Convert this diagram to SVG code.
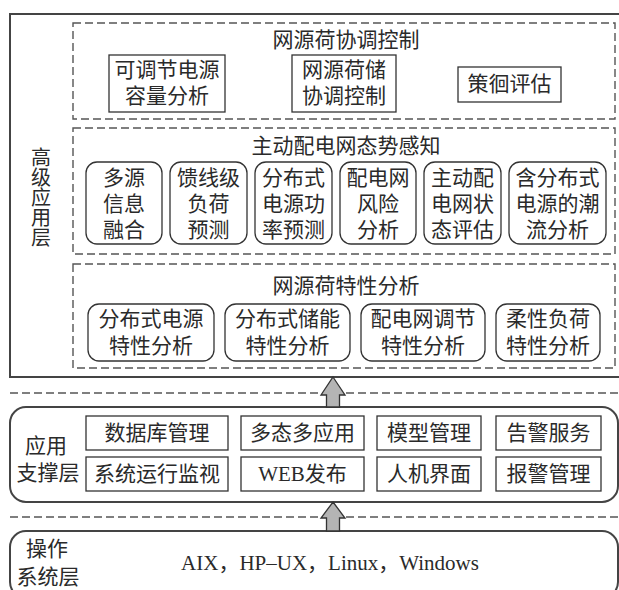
<svg xmlns="http://www.w3.org/2000/svg" width="619" height="590" viewBox="0 0 619 590">
<defs>
<style>
.t{font-family:"Liberation Serif","Noto Sans CJK SC",serif;font-size:21px;fill:#2a2a2a;text-anchor:middle;dominant-baseline:central}
.tt{font-family:"Liberation Serif","Noto Sans CJK SC",serif;font-size:20px;fill:#2a2a2a;text-anchor:middle;dominant-baseline:central}
.outer{fill:none;stroke:#444;stroke-width:2}
.dash{fill:none;stroke:#555;stroke-width:1.4;stroke-dasharray:8 4}
.box{fill:#fff;stroke:#333;stroke-width:1.3}
.arrow{fill:#b4b4b4;stroke:#333;stroke-width:1.3;stroke-linejoin:miter}
</style>
</defs>
<rect width="619" height="590" fill="#fff"/>

<g id="layer-app">
<rect class="outer" x="10" y="14" width="630" height="363"/>
<text class="tt" x="41" y="158">高</text>
<text class="tt" x="41" y="178">级</text>
<text class="tt" x="41" y="198">应</text>
<text class="tt" x="41" y="218">用</text>
<text class="tt" x="41" y="238">层</text>
</g>

<g id="group-coord">
<rect class="dash" x="73" y="23" width="542" height="96"/>
<text class="t" x="346" y="40">网源荷协调控制</text>
</g>
<g id="n-kedj"><rect class="box" x="109" y="55" width="116" height="57"/><text class="t" x="167" y="70">可调节电源</text><text class="t" x="167" y="96">容量分析</text></g>
<g id="n-wyhc"><rect class="box" x="292" y="55" width="104" height="57"/><text class="t" x="344" y="70">网源荷储</text><text class="t" x="344" y="96">协调控制</text></g>
<g id="n-clpg"><rect class="box" x="458" y="67" width="103" height="35"/><text class="t" x="509.5" y="84">策徊评估</text></g>

<g id="group-sense">
<rect class="dash" x="73" y="128" width="542" height="126"/>
<text class="t" x="346" y="146">主动配电网态势感知</text>
</g>
<g id="n-dyxx"><rect class="box" x="86" y="162" width="76" height="82" rx="11"/><text class="t" x="124" y="178">多源</text><text class="t" x="124" y="204">信息</text><text class="t" x="124" y="230">融合</text></g>
<g id="n-kxj"><rect class="box" x="170" y="162" width="77" height="82" rx="11"/><text class="t" x="208.5" y="178">馈线级</text><text class="t" x="208.5" y="204">负荷</text><text class="t" x="208.5" y="230">预测</text></g>
<g id="n-fbsgl"><rect class="box" x="255" y="162" width="77" height="82" rx="11"/><text class="t" x="293.5" y="178">分布式</text><text class="t" x="293.5" y="204">电源功</text><text class="t" x="293.5" y="230">率预测</text></g>
<g id="n-fxfx"><rect class="box" x="340" y="162" width="76" height="82" rx="11"/><text class="t" x="378" y="178">配电网</text><text class="t" x="378" y="204">风险</text><text class="t" x="378" y="230">分析</text></g>
<g id="n-ztpg"><rect class="box" x="424" y="162" width="77" height="82" rx="11"/><text class="t" x="462.5" y="178">主动配</text><text class="t" x="462.5" y="204">电网状</text><text class="t" x="462.5" y="230">态评估</text></g>
<g id="n-clfx"><rect class="box" x="509" y="162" width="97" height="82" rx="11"/><text class="t" x="557.5" y="178">含分布式</text><text class="t" x="557.5" y="204">电源的潮</text><text class="t" x="557.5" y="230">流分析</text></g>

<g id="group-char">
<rect class="dash" x="73" y="264" width="542" height="104"/>
<text class="t" x="346" y="286">网源荷特性分析</text>
</g>
<g id="n-dy"><rect class="box" x="88" y="304" width="126" height="57" rx="11"/><text class="t" x="151" y="319">分布式电源</text><text class="t" x="151" y="346">特性分析</text></g>
<g id="n-cn"><rect class="box" x="225" y="304" width="125" height="57" rx="11"/><text class="t" x="287.5" y="319">分布式储能</text><text class="t" x="287.5" y="346">特性分析</text></g>
<g id="n-tj"><rect class="box" x="361" y="304" width="124" height="57" rx="11"/><text class="t" x="423" y="319">配电网调节</text><text class="t" x="423" y="346">特性分析</text></g>
<g id="n-rx"><rect class="box" x="496" y="304" width="104" height="57" rx="11"/><text class="t" x="548" y="319">柔性负荷</text><text class="t" x="548" y="346">特性分析</text></g>

<g id="layer-support">
<rect class="outer" x="10" y="407" width="608" height="95" rx="16"/>
<text class="t" x="46" y="446">应用</text>
<text class="t" x="48" y="473">支撑层</text>
</g>
<g id="n-sjk"><rect class="box" x="86" y="416" width="142" height="34"/><text class="t" x="157" y="433">数据库管理</text></g>
<g id="n-dtd"><rect class="box" x="241" y="416" width="123" height="34"/><text class="t" x="302.5" y="433">多态多应用</text></g>
<g id="n-mx"><rect class="box" x="377" y="416" width="104" height="34"/><text class="t" x="429" y="433">模型管理</text></g>
<g id="n-gj"><rect class="box" x="496" y="416" width="105" height="34"/><text class="t" x="548.5" y="433">告警服务</text></g>
<g id="n-xt"><rect class="box" x="86" y="457" width="142" height="34"/><text class="t" x="157" y="474">系统运行监视</text></g>
<g id="n-web"><rect class="box" x="241" y="457" width="123" height="34"/><text class="t" x="302.5" y="474">WEB发布</text></g>
<g id="n-rj"><rect class="box" x="377" y="457" width="104" height="34"/><text class="t" x="429" y="474">人机界面</text></g>
<g id="n-bj"><rect class="box" x="496" y="457" width="105" height="34"/><text class="t" x="548.5" y="474">报警管理</text></g>

<g id="layer-os">
<rect class="outer" x="10" y="531" width="608" height="67" rx="16"/>
<text class="t" x="47" y="549">操作</text>
<text class="t" x="48" y="577">系统层</text>
<text class="t" x="330" y="563">AIX，HP–UX，Linux，Windows</text>
</g>

<g id="connectors">
<line class="dash" x1="10" y1="393" x2="619" y2="393"/>
<line class="dash" x1="10" y1="517" x2="619" y2="517"/>
<path class="arrow" d="M333 377 L345 395 L339.5 395 L339.5 407 L326.5 407 L326.5 395 L321 395 Z"/>
<path class="arrow" d="M333 502 L345 518 L339.5 518 L339.5 531 L326.5 531 L326.5 518 L321 518 Z"/>
</g>
</svg>
